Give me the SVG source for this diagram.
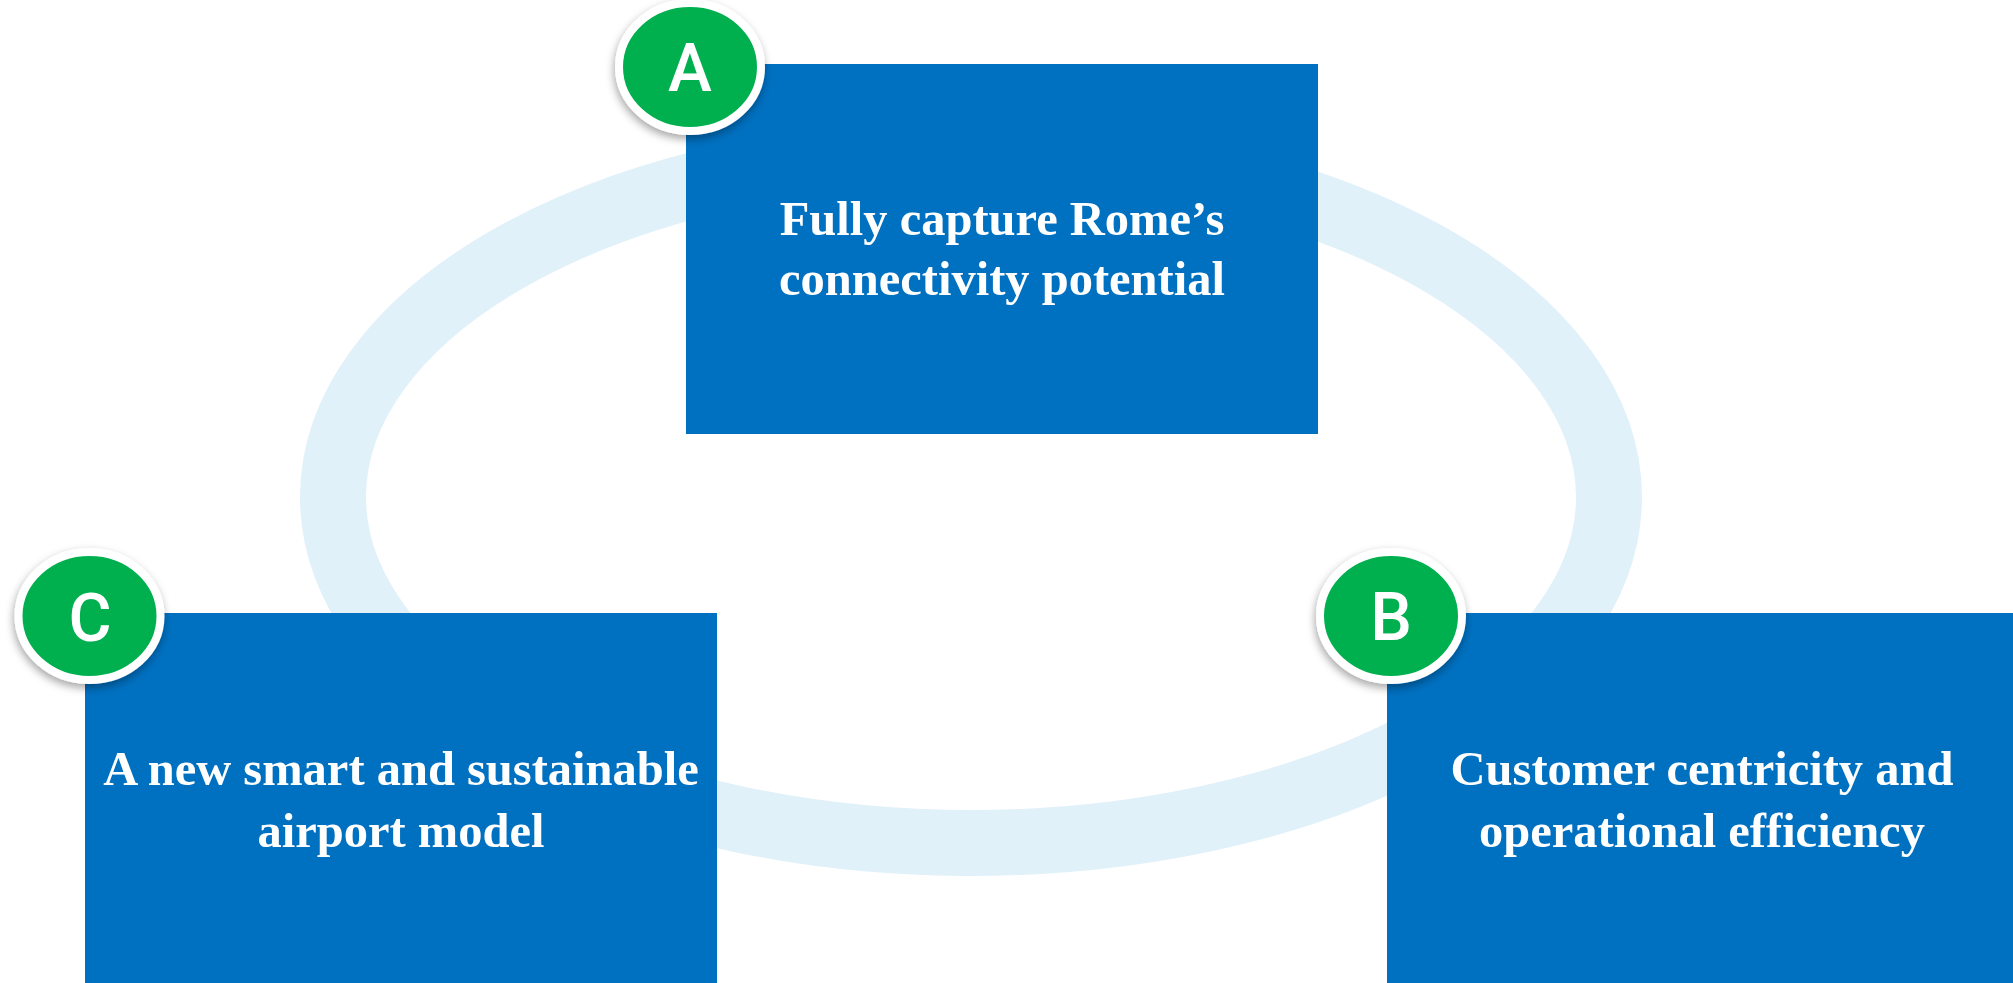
<svg xmlns="http://www.w3.org/2000/svg" width="2013" height="983" viewBox="0 0 2013 983">
<style>
.box{fill:#0070C0;}
.t{font-family:"Liberation Serif","Times New Roman",serif;font-weight:bold;font-size:48.5px;fill:#FFFFFF;text-anchor:middle;}
.badge{fill:#00B050;stroke:#FFFFFF;stroke-width:8;}
.lt{font-family:Roboto,"Liberation Sans",sans-serif;font-weight:500;font-size:66px;fill:#FFFFFF;text-anchor:middle;}
</style>
<defs>
<filter id="sh" x="-30%" y="-30%" width="160%" height="160%">
<feDropShadow dx="-1" dy="4" stdDeviation="4" flood-color="#000000" flood-opacity="0.35"/>
</filter>
</defs>
<rect width="2013" height="983" fill="#FFFFFF"/>
<g id="connectors">
<ellipse cx="971" cy="497" rx="638" ry="346" fill="none" stroke="#E1F1F9" stroke-width="66"/>
</g>
<g id="nodeA">
<rect class="box" x="686" y="64" width="632" height="370"/>
<text class="t" x="1002" y="235">Fully capture Rome’s</text>
<text class="t" x="1002" y="295">connectivity potential</text>
</g>
<g id="nodeC">
<rect class="box" x="85" y="613" width="632" height="370"/>
<text class="t" x="401" y="785">A new smart and sustainable</text>
<text class="t" x="401" y="847">airport model</text>
</g>
<g id="nodeB">
<rect class="box" x="1387" y="613" width="632" height="370"/>
<text class="t" x="1702" y="785">Customer centricity and</text>
<text class="t" x="1702" y="847">operational efficiency</text>
</g>
<g id="badgeA" filter="url(#sh)">
<ellipse class="badge" cx="690" cy="67" rx="71" ry="64"/>
<text class="lt" x="690" y="91">A</text>
</g>
<g id="badgeC" filter="url(#sh)">
<ellipse class="badge" cx="89.5" cy="616" rx="71" ry="64"/>
<text class="lt" x="90" y="641">C</text>
</g>
<g id="badgeB" filter="url(#sh)">
<ellipse class="badge" cx="1391" cy="616" rx="71" ry="64"/>
<text class="lt" x="1391" y="640">B</text>
</g>
</svg>
